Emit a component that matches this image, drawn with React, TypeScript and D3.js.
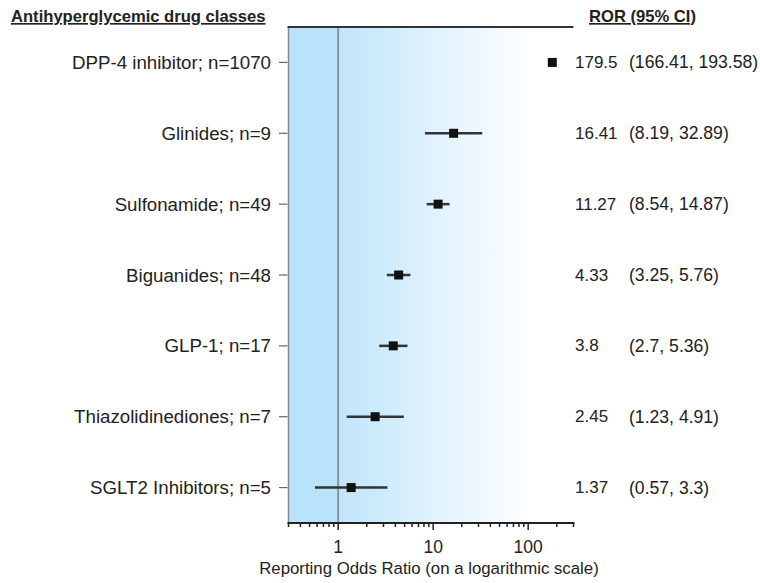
import React from 'react'
import * as d3 from 'd3'

const drugClasses = [
    'DPP-4 inhibitor; n=1070',
    'Glinides; n=9',
    'Sulfonamide; n=49',
    'Biguanides; n=48',
    'GLP-1; n=17',
    'Thiazolidinediones; n=7',
    'SGLT2 Inhibitors; n=5'
]
const rorValues = [179.5, 16.41, 11.27, 4.33, 3.8, 2.45, 1.37]
const ciLow = [166.41, 8.19, 8.54, 3.25, 2.7, 1.23, 0.57]
const ciHigh = [193.58, 32.89, 14.87, 5.76, 5.36, 4.91, 3.3]
const majorTicks = [1, 10, 100]

const WIDTH = 760
const HEIGHT = 583
const plot = { left: 288.5, right: 573.5, top: 27, bottom: 523 }
const FONT = 'Liberation Sans, Arial, Helvetica, sans-serif'

const App = () => {
    // log x axis
    const xScale = d3.scaleLog().domain([0.3, 300]).range([plot.left, plot.right])
    // rows
    const yScale = d3.scalePoint<string>().domain(drugClasses).range([plot.top, plot.bottom]).padding(0.5)

    const minorTicks = xScale.ticks().filter(t => !majorTicks.includes(t))
    const x1 = xScale(1)

    return (
        <div style={{ position: 'absolute', left: 0, top: 0 }}>
            <svg width={WIDTH} height={HEIGHT} style={{ display: 'block', fontFamily: FONT }}>
                <defs>
                    <linearGradient id="bg-grad" gradientUnits="userSpaceOnUse" x1={x1} x2={xScale(110)} y1={0} y2={0}>
                        <stop offset="0%" stopColor="#c0e5fb" />
                        <stop offset="100%" stopColor="#ffffff" />
                    </linearGradient>
                </defs>

                {/* background */}
                <rect x={plot.left} y={plot.top} width={x1 - plot.left} height={plot.bottom - plot.top} fill="#b9e2fb" />
                <rect x={x1} y={plot.top} width={plot.right - x1} height={plot.bottom - plot.top} fill="url(#bg-grad)" />
                <line x1={plot.left} x2={plot.left} y1={plot.top} y2={plot.bottom} stroke="#7f8c96" strokeWidth={1.5} />
                <line x1={x1} x2={x1} y1={plot.top} y2={plot.bottom} stroke="#868c92" strokeWidth={1.8} />
                <line x1={plot.left - 1} x2={plot.right} y1={plot.top} y2={plot.top} stroke="#333" strokeWidth={2} />

                {/* headers */}
                <text x={11} y={22} fontSize={16.6} fontWeight="bold" fill="#222" textDecoration="underline">
                    Antihyperglycemic drug classes
                </text>
                <text x={589} y={22} fontSize={16.6} fontWeight="bold" fill="#222" textDecoration="underline">
                    ROR (95% CI)
                </text>

                {/* y ticks + labels */}
                {drugClasses.map((d) => {
                    const y = yScale(d)
                    return (
                        <g key={d}>
                            <line x1={279} x2={plot.left - 1} y1={y} y2={y} stroke="#666" strokeWidth={1.2} />
                            <text x={271} y={y} fontSize={18.7} textAnchor="end" dominantBaseline="central" fill="#222">
                                {d}
                            </text>
                        </g>
                    )
                })}

                {/* x axis */}
                <g transform={`translate(0,${plot.bottom})`}>
                    <line x1={plot.left - 1} x2={plot.right + 1} y1={0} y2={0} stroke="#222" strokeWidth={2} />
                    {minorTicks.map(t => (
                        <line key={t} x1={xScale(t)} x2={xScale(t)} y1={0} y2={4} stroke="#222" strokeWidth={1.5} />
                    ))}
                    {majorTicks.map(t => (
                        <g key={t}>
                            <line x1={xScale(t)} x2={xScale(t)} y1={0} y2={7} stroke="#222" strokeWidth={1.5} />
                            <text x={xScale(t)} y={24} fontSize={17.5} textAnchor="middle" dominantBaseline="central" fill="#222">
                                {t}
                            </text>
                        </g>
                    ))}
                    <text x={429} y={45} fontSize={16.8} textAnchor="middle" dominantBaseline="central" fill="#222">
                        Reporting Odds Ratio (on a logarithmic scale)
                    </text>
                </g>

                {/* estimates */}
                {drugClasses.map((d, i) => {
                    const y = yScale(d)
                    const cx = xScale(rorValues[i])
                    return (
                        <g key={d}>
                            <line x1={xScale(ciLow[i])} x2={xScale(ciHigh[i])} y1={y} y2={y} stroke="#333" strokeWidth={2.5} />
                            <rect x={cx - 4.5} y={y - 4.5} width={9} height={9} fill="#111" />
                            <text x={575} y={y} fontSize={17} dominantBaseline="central" fill="#222">
                                {String(rorValues[i])}
                            </text>
                            <text x={629} y={y} fontSize={17.6} dominantBaseline="central" fill="#222">
                                {`(${ciLow[i]}, ${ciHigh[i]})`}
                            </text>
                        </g>
                    )
                })}
            </svg>
        </div>
    )
}

export default App
